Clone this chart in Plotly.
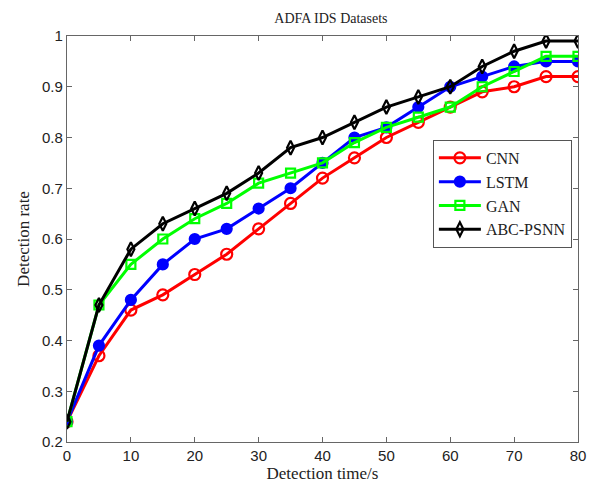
import plotly.graph_objects as go

x_vals = [0, 5, 10, 15, 20, 25, 30, 35, 40, 45, 50, 55, 60, 65, 70, 75, 80]
cnn = [0.24, 0.37, 0.46, 0.49, 0.53, 0.57, 0.62, 0.67, 0.72, 0.76, 0.80, 0.83, 0.86, 0.89, 0.90, 0.92, 0.92]
lstm = [0.24, 0.39, 0.48, 0.55, 0.60, 0.62, 0.66, 0.70, 0.75, 0.80, 0.82, 0.86, 0.90, 0.92, 0.94, 0.95, 0.95]
gan = [0.24, 0.47, 0.55, 0.60, 0.64, 0.67, 0.71, 0.73, 0.75, 0.79, 0.82, 0.84, 0.86, 0.90, 0.93, 0.96, 0.96]
abc = [0.24, 0.47, 0.58, 0.63, 0.66, 0.69, 0.73, 0.78, 0.80, 0.83, 0.86, 0.88, 0.90, 0.94, 0.97, 0.99, 0.99]

series = [
    ("CNN", cnn, "#ff0000", "circle-open", 11),
    ("LSTM", lstm, "#0000ff", "circle", 10),
    ("GAN", gan, "#00ff00", "square-open", 9),
    ("ABC-PSNN", abc, "#000000", "diamond-tall-open", 10),
]

fig = go.Figure()
for name, ys, col, sym, sz in series:
    fig.add_trace(go.Scatter(
        x=x_vals, y=ys, name=name, mode="lines+markers",
        line=dict(color=col, width=3),
        marker=dict(symbol=sym, size=sz, color=col, line=dict(color=col, width=2.2)),
    ))

serif = "Times New Roman, Liberation Serif, serif"

axis_common = dict(
    showline=True, linecolor="#666666", linewidth=1.3, mirror="ticks",
    ticks="inside", ticklen=5, tickcolor="#666666", showgrid=False, zeroline=False,
    automargin=False,
    tickfont=dict(family="Liberation Sans, Arial", size=15, color="#222222"),
)
fig.update_xaxes(range=[0, 80], dtick=10, tick0=0,
                 title=dict(text="Detection time/s", standoff=0,
                            font=dict(family=serif, size=17, color="#222222")),
                 **axis_common)
fig.update_yaxes(range=[0.2, 1.0], dtick=0.1, tick0=0.2, tickformat="~g",
                 title=dict(text="Detection rate", standoff=8,
                            font=dict(family=serif, size=17, color="#222222")),
                 **axis_common)

fig.update_layout(
    width=598, height=485,
    margin=dict(l=59, r=28, t=28, b=51, autoexpand=False),
    paper_bgcolor="white", plot_bgcolor="white",
    title=dict(text="ADFA IDS Datasets", x=0.54, xanchor="center", y=1 - 10 / 485, yanchor="middle",
               font=dict(family=serif, size=14, color="#222222")),
    legend=dict(x=0.716, y=0.744, xanchor="left", yanchor="top",
                bordercolor="#555555", borderwidth=1, bgcolor="white",
                font=dict(family=serif, size=16, color="#222222"),
                itemwidth=42, tracegroupgap=0),
    showlegend=True,
)

fig.write_html("out.html")
